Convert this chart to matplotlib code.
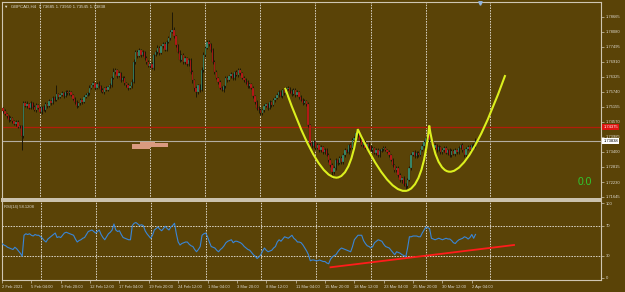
import numpy as np
import matplotlib
matplotlib.use("Agg")
import matplotlib.pyplot as plt
import matplotlib.transforms as mtransforms
from matplotlib.path import Path
from matplotlib.patches import PathPatch

# ---------------- colours / fonts ----------------
BG = "#5a4307"
FRAME = "#cfc6b2"
TXT = "#dedad0"
BULL = "#3a9274"
BEAR = "#c41a1a"
WICK = "#1e1807"
SEP = "#d8d2c4"
FONT = ["Liberation Sans", "DejaVu Sans"]
plt.rcParams["font.family"] = FONT

# ---------------- data: GBPCAD H4 ----------------
first_open = 1.7505
closes = [
    1.7512, 1.7500, 1.7488, 1.7480, 1.7465, 1.7473, 1.7461, 1.7449, 1.7457, 1.7438,
    1.7441, 1.7402, 1.7531, 1.7519, 1.7527, 1.7512, 1.7531, 1.7516, 1.7504, 1.7523,
    1.7512, 1.7496, 1.7516, 1.7504, 1.7527, 1.7519, 1.7539, 1.7531, 1.7551, 1.7543,
    1.7566, 1.7555, 1.7562, 1.7570, 1.7558, 1.7574, 1.7570, 1.7574, 1.7562, 1.7547,
    1.7535, 1.7519, 1.7531, 1.7543, 1.7535, 1.7555, 1.7562, 1.7570, 1.7590, 1.7601,
    1.7609, 1.7590, 1.7605, 1.7597, 1.7582, 1.7574, 1.7590, 1.7582, 1.7594, 1.7601,
    1.7629, 1.7652, 1.7660, 1.7636, 1.7648, 1.7621, 1.7629, 1.7609, 1.7601, 1.7590,
    1.7597, 1.7613, 1.7691, 1.7730, 1.7714, 1.7738, 1.7718, 1.7730, 1.7707, 1.7691,
    1.7675, 1.7683, 1.7668, 1.7718, 1.7730, 1.7746, 1.7726, 1.7753, 1.7761, 1.7738,
    1.7769, 1.7785, 1.7808, 1.7816, 1.7792, 1.7757, 1.7730, 1.7699, 1.7718, 1.7691,
    1.7707, 1.7683, 1.7699, 1.7652, 1.7621, 1.7590, 1.7574, 1.7601, 1.7582, 1.7660,
    1.7718, 1.7746, 1.7769, 1.7761, 1.7738, 1.7691, 1.7652, 1.7629, 1.7613, 1.7590,
    1.7582, 1.7597, 1.7629, 1.7621, 1.7636, 1.7644, 1.7629, 1.7652, 1.7640, 1.7660,
    1.7648, 1.7629, 1.7621, 1.7613, 1.7597, 1.7605, 1.7590, 1.7558, 1.7535, 1.7512,
    1.7504, 1.7492, 1.7504, 1.7519, 1.7527, 1.7512, 1.7535, 1.7523, 1.7543, 1.7551,
    1.7562, 1.7574, 1.7558, 1.7582, 1.7570, 1.7586, 1.7590, 1.7578, 1.7566, 1.7582,
    1.7562, 1.7574, 1.7555, 1.7543, 1.7531, 1.7539, 1.7527, 1.7445, 1.7375, 1.7363,
    1.7379, 1.7356, 1.7367, 1.7348, 1.7360, 1.7340, 1.7348, 1.7328, 1.7309, 1.7289,
    1.7262, 1.7278, 1.7309, 1.7297, 1.7317, 1.7301, 1.7328, 1.7348, 1.7340, 1.7367,
    1.7356, 1.7387, 1.7395, 1.7414, 1.7406, 1.7387, 1.7367, 1.7379, 1.7356, 1.7371,
    1.7363, 1.7348, 1.7356, 1.7336, 1.7348, 1.7328, 1.7344, 1.7352, 1.7356, 1.7348,
    1.7340, 1.7328, 1.7309, 1.7289, 1.7270, 1.7278, 1.7250, 1.7231, 1.7239, 1.7215,
    1.7207, 1.7231, 1.7278, 1.7328, 1.7340, 1.7324, 1.7336, 1.7328, 1.7348, 1.7363,
    1.7379, 1.7395, 1.7406, 1.7387, 1.7379, 1.7356, 1.7367, 1.7348, 1.7360, 1.7340,
    1.7348, 1.7356, 1.7336, 1.7348, 1.7328, 1.7344, 1.7332, 1.7348, 1.7340, 1.7356,
    1.7367, 1.7348, 1.7328, 1.7352, 1.7360, 1.7348, 1.7367, 1.73685, 1.73838,
]

# wick extensions in pips beyond the body
wick_up = [
    6, 4, 8, 5, 3, 7, 5, 4, 9, 6,
    5, 4, 8, 6, 10, 5, 7, 4, 6, 8,
    5, 7, 4, 6, 9, 5, 8, 4, 6, 7,
    35, 6, 5, 8, 4, 7, 6, 9, 5, 4,
    6, 8, 5, 7, 4, 6, 9, 5, 12, 6,
    7, 4, 8, 10, 5, 6, 4, 7, 5, 8,
    9, 14, 6, 5, 8, 4, 7, 6, 5, 8,
    6, 10, 12, 8, 6, 9, 5, 7, 4, 6,
    8, 5, 7, 6, 9, 10, 6, 5, 8, 7,
    6, 8, 9, 70, 12, 6, 5, 8, 6, 7,
    9, 5, 8, 6, 7, 5, 8, 6, 4, 10,
    12, 9, 6, 8, 5, 7, 6, 8, 5, 6,
    7, 5, 6, 8, 4, 9, 6, 5, 7, 6,
    8, 5, 7, 6, 9, 5, 6, 8, 5, 7,
    6, 8, 5, 7, 4, 6, 8, 5, 7, 6,
    9, 6, 8, 5, 7, 6, 9, 5, 6, 8,
    7, 6, 5, 8, 6, 7, 5, 9, 6, 7,
    8, 5, 7, 6, 8, 5, 7, 6, 9, 6,
    7, 8, 6, 5, 9, 6, 8, 7, 5, 6,
    8, 6, 9, 16, 7, 8, 6, 5, 8, 6,
    7, 6, 8, 5, 9, 6, 7, 5, 8, 6,
    5, 7, 6, 8, 5, 7, 6, 8, 5, 7,
    6, 8, 9, 7, 5, 8, 6, 7, 5, 8,
    9, 7, 35, 6, 8, 5, 7, 6, 9, 5,
    7, 6, 8, 5, 7, 6, 8, 6, 5, 7,
    6, 8, 5, 7, 9, 6, 5, 7, 11,
]
wick_dn = [
    5, 7, 4, 6, 8, 5, 6, 4, 7, 5,
    6, 55, 7, 5, 8, 4, 6, 7, 5, 9,
    6, 4, 7, 5, 8, 6, 4, 7, 5, 6,
    5, 7, 6, 4, 8, 5, 7, 6, 4, 6,
    8, 6, 5, 9, 7, 4, 6, 5, 8, 6,
    5, 7, 4, 6, 8, 5, 7, 6, 4, 5,
    7, 5, 8, 6, 4, 7, 5, 9, 6, 8,
    6, 7, 5, 8, 6, 4, 7, 5, 8, 6,
    5, 8, 6, 7, 5, 6, 8, 4, 7, 5,
    6, 5, 7, 4, 6, 8, 5, 7, 6, 8,
    7, 9, 6, 8, 10, 12, 20, 8, 7, 6,
    8, 6, 5, 7, 9, 6, 8, 5, 7, 6,
    5, 7, 6, 8, 5, 6, 7, 9, 5, 8,
    6, 5, 8, 7, 6, 9, 5, 7, 6, 8,
    10, 7, 6, 8, 5, 7, 6, 8, 5, 7,
    6, 8, 5, 7, 6, 8, 5, 6, 7, 5,
    7, 5, 8, 6, 7, 5, 9, 6, 8, 7,
    6, 8, 5, 7, 9, 6, 8, 5, 7, 6,
    23, 7, 8, 6, 5, 8, 6, 7, 5, 6,
    7, 6, 8, 5, 6, 7, 5, 8, 6, 7,
    8, 6, 7, 5, 8, 6, 7, 5, 9, 6,
    5, 7, 6, 8, 7, 9, 6, 8, 10, 7,
    16, 8, 6, 7, 5, 8, 6, 7, 5, 6,
    7, 5, 6, 8, 5, 7, 6, 8, 5, 7,
    6, 8, 5, 7, 6, 8, 5, 7, 6, 8,
    5, 7, 6, 8, 5, 7, 6, 8, 14,
]

rsi = [
    46, 44, 43, 41, 40, 39, 38, 41, 39, 36,
    33, 29, 57, 59, 58, 59, 57, 56, 58, 57,
    57, 55, 53, 50, 48, 52, 54, 56, 58, 60,
    54, 55, 54, 57, 60, 61, 60, 59, 58, 57,
    52, 48, 50, 51, 53, 54, 58, 62, 63, 64,
    62, 60, 62, 64, 58, 54, 51, 55, 59, 61,
    64, 72, 64, 62, 63, 58, 54, 53, 52, 51,
    51, 70, 73, 74, 72, 70, 71, 70, 63, 59,
    56, 53, 57, 64, 66, 68, 65, 63, 66, 69,
    66, 64, 68, 70, 73, 59, 48, 44, 46, 47,
    48, 48, 45, 43, 42, 38, 35, 38, 42, 57,
    59, 60, 55, 48, 42, 41, 40, 37, 35, 38,
    40, 43, 47, 49, 50, 51, 47, 49, 49, 48,
    47, 45, 42, 40, 38, 37, 34, 31, 29, 26,
    28, 31, 36, 40, 37, 35, 36, 37, 40, 42,
    48, 51, 49, 52, 55, 54, 53, 55, 57, 53,
    51, 48, 48, 47, 44, 40, 36, 31, 23, 24,
    24, 23, 23, 24, 23, 22, 22, 20, 19, 25,
    28, 30, 31, 35, 38, 40, 39, 38, 37, 36,
    35, 42, 51, 54, 57, 57, 57, 50, 46, 43,
    42, 40, 42, 47, 49, 51, 50, 49, 45, 42,
    41, 40, 37, 34, 31, 35, 34, 33, 31, 30,
    28, 40, 55, 55, 56, 56, 56, 55, 55, 60,
    64, 68, 67, 66, 53, 52, 51, 52, 53, 52,
    51, 52, 53, 52, 52, 50, 47, 46, 49, 51,
    52, 53, 55, 54, 52, 54, 58, 53, 58.1208,
]

# time axis labels every 16 bars
time_labels = ["2 Feb 2021", "5 Feb 04:00", "9 Feb 20:00", "12 Feb 12:00",
               "17 Feb 04:00", "19 Feb 20:00", "24 Feb 12:00", "1 Mar 04:00",
               "3 Mar 20:00", "8 Mar 12:00", "11 Mar 04:00", "15 Mar 20:00",
               "18 Mar 12:00", "23 Mar 04:00", "25 Mar 20:00", "30 Mar 12:00",
               "2 Apr 04:00"]
label_step = 16
week_starts = [21, 51, 81, 111, 141, 171, 201, 231, 266]

price_ticks = [1.71645 + 0.00585 * k for k in range(13)]
red_level = 1.74375
bid_price = 1.73838

# salmon label object on the chart: (start bar, end bar, low, high)
blob_parts = [(71.0, 81.0, 1.7352, 1.7372),
              (75.5, 83.5, 1.7360, 1.7379),
              (81.0, 90.7, 1.7360, 1.7375)]

# hand-drawn pattern: peak, trough, peak, trough ... (bar index, price)
pattern_i = [154.4, 179.4, 194.0, 219.7, 232.9, 247.8, 274.3]
pattern_p = [1.7590, 1.7246, 1.7429, 1.7188, 1.7443, 1.7272, 1.7640]

# RSI trendline (bar index, RSI value)
rsi_trend_i = [179, 279]
rsi_trend_v = [14.3, 44.0]

# ---------------- figure ----------------
fig = plt.figure(figsize=(6.25, 2.92), dpi=100, facecolor=BG)
W, H = 625, 292
ax = fig.add_axes([2 / W, 1 - 199 / H, 599 / W, 197 / H], facecolor=BG)
rx = fig.add_axes([2 / W, 1 - 280 / H, 599 / W, 79 / H], facecolor=BG)

x_lo, x_hi = 0.38, 326.4
for a in (ax, rx):
    a.set_xlim(x_lo, x_hi)
    for s in a.spines.values():
        s.set_color(FRAME)
        s.set_linewidth(0.8)
    for w in week_starts:
        a.axvline(w, color=SEP, lw=0.7, ls=(0, (1.6, 1.2)), zorder=1)
ax.spines["bottom"].set_linewidth(1.4)
rx.spines["top"].set_linewidth(1.4)

ax.set_ylim(1.71567, 1.7925)
rx.set_ylim(-2.67, 102.7)

# candles
closes = np.array(closes)
opens = np.r_[first_open, closes[:-1]]
idx = np.arange(len(closes))
highs = np.maximum(opens, closes) + np.array(wick_up) / 1e4
lows = np.minimum(opens, closes) - np.array(wick_dn) / 1e4
up = closes >= opens
ax.vlines(idx, lows, highs, color=WICK, lw=0.7, zorder=3)
ax.bar(idx, closes - opens, bottom=opens, width=0.75,
       color=np.where(up, BULL, BEAR), edgecolor=WICK, linewidth=0.15, zorder=4)

# horizontal lines
ax.axhline(red_level, color="#b01e0a", lw=0.9, zorder=2)
ax.axhline(bid_price, color="#b4aea2", lw=0.8, zorder=2)

# salmon blob
for i0, i1, p0, p1 in blob_parts:
    ax.fill_between([i0, i1], p0, p1, color="#d99a80", lw=0, zorder=5)

# yellow pattern curve (chain of quadratic arcs)
verts, codes = [(pattern_i[0], pattern_p[0])], [Path.MOVETO]
for k in range(0, len(pattern_i) - 2, 2):
    p0 = np.array([pattern_i[k], pattern_p[k]])
    t = np.array([pattern_i[k + 1], pattern_p[k + 1]])
    p2 = np.array([pattern_i[k + 2], pattern_p[k + 2]])
    ctrl = 2 * t - (p0 + p2) / 2
    verts += [tuple(ctrl), tuple(p2)]
    codes += [Path.CURVE3, Path.CURVE3]
ax.add_patch(PathPatch(Path(verts, codes), fc="none", ec="#dcf01e",
                       lw=1.5, zorder=6))

# price axis
ax.yaxis.tick_right()
ax.set_yticks(price_ticks)
ax.set_yticklabels([f"{v:.5f}" for v in price_ticks])
ax.tick_params(axis="y", length=2, width=0.5, colors=FRAME, labelcolor=TXT,
               labelsize=3, pad=1.2)
ax.set_xticks([])

trans = mtransforms.blended_transform_factory(ax.transAxes, ax.transData)
ax.text(1.004, red_level, f"{red_level:.5f}", transform=trans, fontsize=3,
        color="white", va="center", ha="left", zorder=10,
        bbox=dict(boxstyle="square,pad=0.25", fc="#e01410", ec="none"))
ax.text(1.004, bid_price, f"{bid_price:.5f}", transform=trans, fontsize=3,
        color="black", va="center", ha="left", zorder=10,
        bbox=dict(boxstyle="square,pad=0.25", fc="white", ec="none"))

ax.text(0.003, 0.988, "\u25bc  GBPCAD,H4  1.73685 1.73950 1.73545 1.73838",
        transform=ax.transAxes, fontsize=3.2, color=TXT, va="top", ha="left")
ax.text(0.9616, 0.084, "0.0", transform=ax.transAxes, fontsize=7.5,
        color="#30c830", va="center", ha="left")
ax.plot([260.5], [1.7922], marker="v", ms=2.5, color="#8fb4e0",
        clip_on=False, zorder=7)

# RSI panel
for lvl in (70, 30):
    rx.axhline(lvl, color=SEP, lw=0.7, ls=(0, (1.6, 1.2)), zorder=1)
rx.plot(idx, rsi, color="#3a86d8", lw=0.8, zorder=3)
rx.plot(rsi_trend_i, rsi_trend_v, color="#ff1c1c", lw=1.3, zorder=4)
rx.text(0.003, 0.95, f"RSI(14) {rsi[-1]:.4f}", transform=rx.transAxes,
        fontsize=3, color=TXT, va="top", ha="left")

rx.yaxis.tick_right()
rx.set_yticks([100, 70, 30, 0])
rx.set_yticklabels(["100", "70", "30", "0"])
rx.tick_params(axis="y", length=2, width=0.5, colors=FRAME, labelcolor=TXT,
               labelsize=3, pad=1.2)

tick_pos = [label_step * k for k in range(len(time_labels))]
rx.set_xticks(tick_pos)
rx.set_xticklabels(time_labels)
rx.tick_params(axis="x", length=2, width=0.5, colors=FRAME, labelcolor=TXT,
               labelsize=3, pad=1.5)
for lbl in rx.get_xticklabels():
    lbl.set_ha("left")

fig.savefig("out.png", dpi=100, facecolor=BG)
